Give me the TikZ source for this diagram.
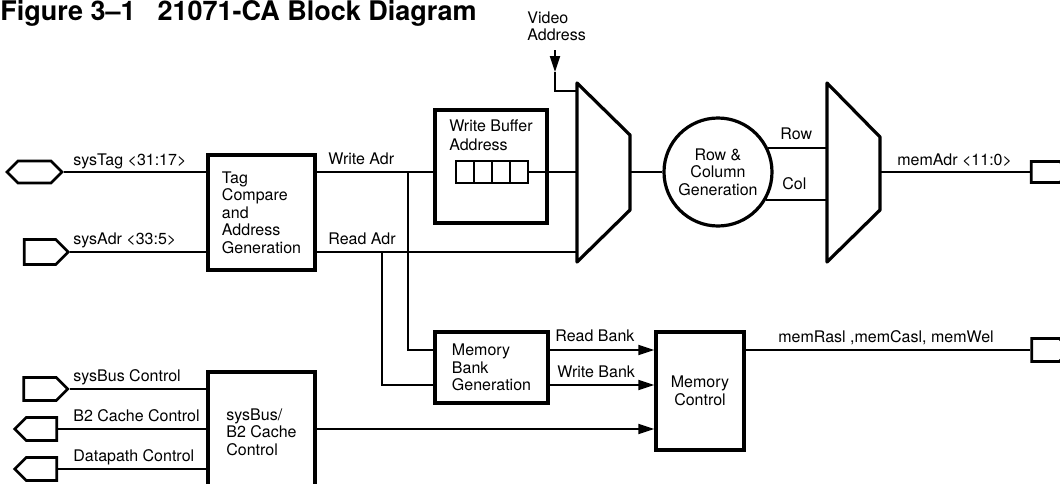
\documentclass[tikz,border=0pt]{standalone}
\usepackage{fontspec}
\setmainfont{TeX Gyre Heros}
\usetikzlibrary{shapes.symbols,arrows.meta}

\begin{document}
\begin{tikzpicture}[x=0.5pt,y=-0.5pt,
    blk/.style={draw,line width=1.7pt,inner sep=0pt,align=left,font=\fontsize{8}{8.75}\selectfont},
    port/.style={signal,draw,line width=1.4pt,inner sep=0pt,minimum width=21pt,minimum height=11.5pt},
    cell/.style={draw,line width=1pt,minimum width=9pt,minimum height=11pt,inner sep=0pt},
    lbl/.style={anchor=base west,inner sep=0pt,font=\fontsize{8}{8.75}\selectfont},
    sig/.style={line width=1pt},
    arr/.style={sig,-{Triangle[length=8pt,width=5pt]}},
    mux/.style={line width=1.6pt,line join=round}]
  \clip (0,0) rectangle (1060,483);
  \node[anchor=base west,inner sep=0pt,font=\fontsize{13.5}{15}\selectfont\bfseries] (title) at (0,20)
    {Figure 3–1\hspace{11pt}21071-CA Block Diagram};

  % pins
  \node[port,signal to=east and west,minimum width=27.5pt,minimum height=11pt] (systag) at (34.5,172) {};
  \node[port,signal to=east,minimum width=22pt,minimum height=12.5pt] (sysadr) at (40,252) {};
  \node[port,signal to=east,minimum width=22pt] (sysbus) at (40,389) {};
  \node[port,signal to=west] (b2c) at (41.5,429) {};
  \node[port,signal to=west] (dpc) at (41.5,469) {};
  \node[port,signal to=east,minimum width=19.5pt,minimum height=10.5pt] (memadr) at (1045.5,172) {};
  \node[port,signal to=east,minimum width=19.5pt] (memctl) at (1045.5,350) {};

  % blocks
  \node[blk,minimum width=53.5pt,minimum height=57.5pt] (tag) at (261.5,212.5) {Tag\\Compare\\and\\Address\\Generation};
  \node[blk,minimum width=53.5pt,minimum height=60pt] (sbc) at (261.5,432) {sysBus/\\B2 Cache\\Control};
  \node[blk,minimum width=56pt,minimum height=56.5pt] (wbuf) at (491,166.5) {};
  \node[anchor=north,inner sep=0pt,align=left,font=\fontsize{8}{9.5}\selectfont] (wbt) at ([yshift=-5.5pt]wbuf.north) {Write Buffer\\Address};
  \foreach \i in {0,...,3}
    \node[cell] (c\i) at (465+18*\i,172) {};
  \node[blk,minimum width=56.5pt,minimum height=35.5pt] (mbg) at (491.5,367.5) {Memory\\Bank\\Generation};
  \node[blk,align=center,minimum width=44pt,minimum height=59pt] (mc) at (700,391) {Memory\\Control};
  \node[circle,draw,line width=1.6pt,minimum size=54pt,inner sep=0pt,align=center,font=\fontsize{8}{8.75}\selectfont] (rc) at (718,172) {Row \&\\Column\\Generation};

  % multiplexers
  \draw[mux] (577,83) coordinate (m1a) -- (630,135) -- (630,210) coordinate (m1b) -- (577,262) -- cycle;
  \draw[mux] (827,83) coordinate (m2a) -- (880,137) -- (880,210) coordinate (m2b) -- (827,262) -- cycle;

  % rows of the lower buses
  \coordinate (rbk) at (0,350);
  \coordinate (wbk) at (0,385);
  \coordinate (cbk) at (0,429);
  \coordinate (tw) at (408,172);
  \coordinate (tr) at (382,252);

  % address paths
  \draw[sig] (systag.east) -- (systag -| tag.west);
  \draw[sig] (sysadr.east) -- (sysadr -| tag.west);
  \draw[sig] (tag.east |- systag) -- (wbuf.west |- systag);
  \draw[sig] (c3.east) -- (c3 -| m1a);
  \draw[sig] (tag.east |- sysadr) -- (sysadr -| m1a);
  \draw[sig] (m1b |- rc) -- (rc.west);
  \draw[sig] (rc.26) -- (rc.26 -| m2a);
  \draw[sig] (rc.-30) -- (rc.-30 -| m2a);
  \draw[sig] (m2b |- memadr) -- (memadr.west);

  % video address input
  \node[anchor=north west,inner sep=0pt,align=left,font=\fontsize{8}{8.75}\selectfont] (vid) at (527,11) {Video\\Address};
  \coordinate (vtop) at (555,50);
  \coordinate (vtip) at (555,72);
  \coordinate (vin) at (555,91);
  \draw[arr] (vtop) -- (vtip);
  \draw[sig] (vtip) -- (vin) -- (vin -| m1a);

  % bank generation and memory control
  \draw[sig] (tw) |- (mbg.west |- rbk);
  \draw[sig] (tr) |- (mbg.west |- wbk);
  \draw[arr] (mbg.east |- rbk) -- (mc.west |- rbk);
  \draw[arr] (mbg.east |- wbk) -- (mc.west |- wbk);
  \draw[arr] (sbc.east |- cbk) -- (mc.west |- cbk);
  \draw[sig] (mc.east |- memctl) -- (memctl.west);

  % control pins
  \draw[sig] (sysbus.east) -- (sysbus -| sbc.west);
  \draw[sig] (b2c.east) -- (b2c -| sbc.west);
  \draw[sig] (dpc.east) -- (dpc -| sbc.west);

  % labels
  \node[lbl] (l1) at (73,165) {sysTag <31:17>};
  \node[lbl] (l2) at (73,244) {sysAdr <33:5>};
  \node[lbl] (l3) at (328,164) {Write Adr};
  \node[lbl] (l4) at (328,244) {Read Adr};
  \node[lbl] (l5) at (780,139) {Row};
  \node[lbl] (l6) at (782,189) {Col};
  \node[lbl] (l7) at (897,165) {memAdr <11:0>};
  \node[lbl] (l8) at (555,341) {Read Bank};
  \node[lbl] (l9) at (557,377) {Write Bank};
  \node[lbl] (l10) at (778,342) {memRasl ,memCasl, memWel};
  \node[lbl] (l11) at (73,381) {sysBus Control};
  \node[lbl] (l12) at (73,421) {B2 Cache Control};
  \node[lbl] (l13) at (73,461) {Datapath Control};
\end{tikzpicture}
\end{document}
